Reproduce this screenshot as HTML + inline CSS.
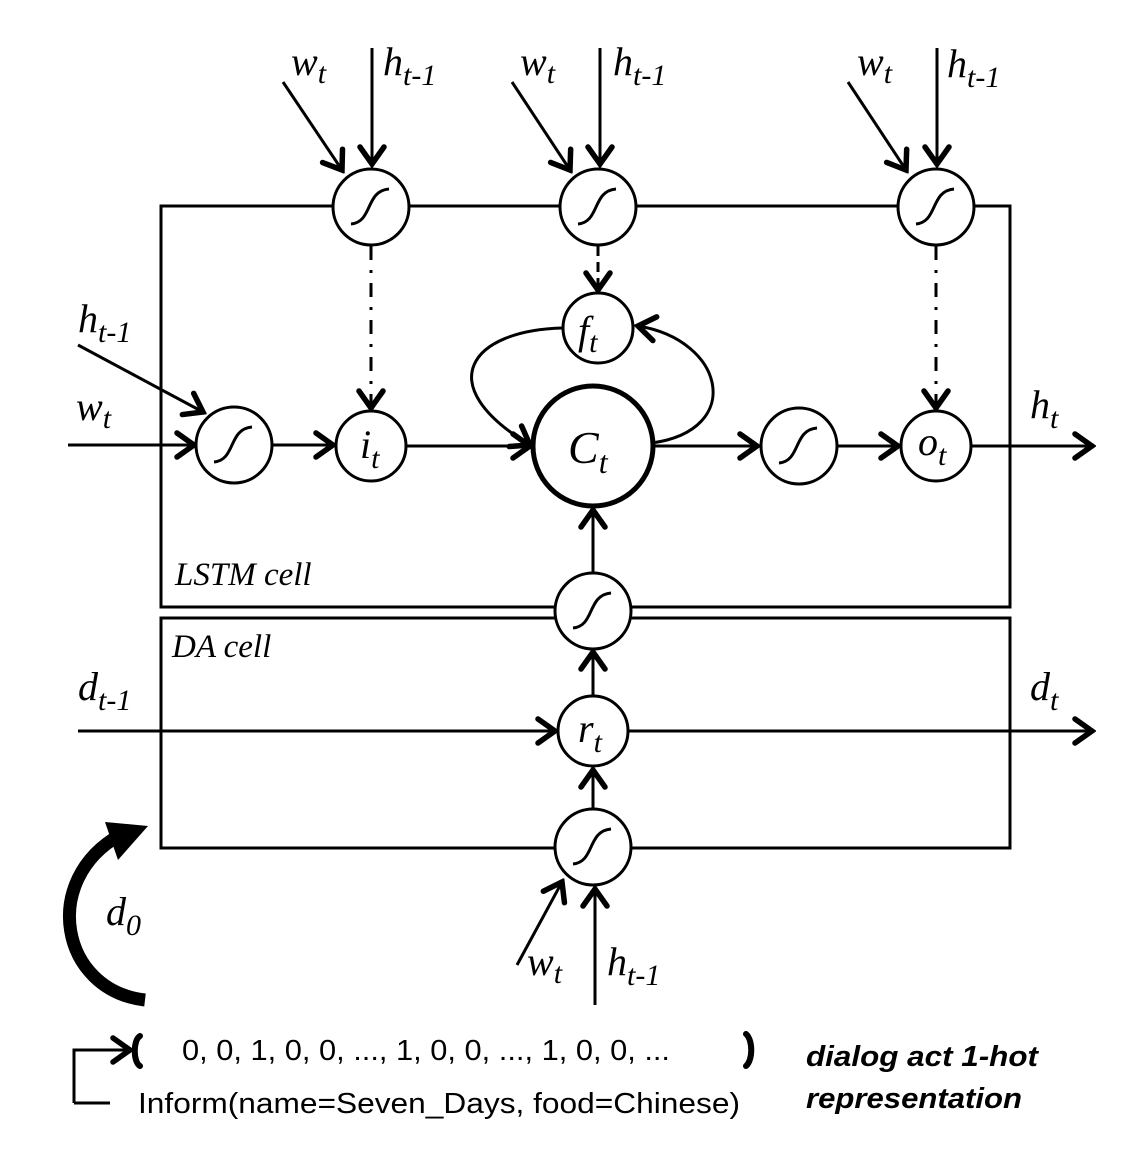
<!DOCTYPE html>
<html><head><meta charset="utf-8"><style>
html,body{margin:0;padding:0;background:#fff;}
svg{display:block;}
.l{font-family:"Liberation Serif",serif;font-style:italic;fill:#000;}
.s{font-family:"Liberation Sans",sans-serif;fill:#000;}
</style></head><body>
<svg width="1142" height="1165" viewBox="0 0 1142 1165" xmlns="http://www.w3.org/2000/svg">
<defs>
<marker id="a" viewBox="-22 -16 26 32" refX="0" refY="0" markerWidth="26" markerHeight="32" markerUnits="userSpaceOnUse" orient="auto">
<path d="M-17,-12 L0,0 L-17,12" fill="none" stroke="#000" stroke-width="5.5" stroke-linecap="round" stroke-linejoin="miter"/>
</marker>
<g id="sg"><path d="M-20,17 C2,15 -6,-16 18,-18" fill="none" stroke="#000" stroke-width="3"/></g>
</defs>
<g fill="none" stroke="#000" stroke-width="3">
<rect x="161" y="206" width="849" height="401"/>
<rect x="161" y="618" width="849" height="230"/>
<line x1="283" y1="82" x2="342" y2="170" marker-end="url(#a)"/>
<line x1="372" y1="48" x2="372" y2="164" marker-end="url(#a)"/>
<line x1="512" y1="82" x2="570" y2="170" marker-end="url(#a)"/>
<line x1="600" y1="48" x2="600" y2="164" marker-end="url(#a)"/>
<line x1="848" y1="82" x2="906" y2="170" marker-end="url(#a)"/>
<line x1="937" y1="48" x2="937" y2="164" marker-end="url(#a)"/>
<line x1="371" y1="246" x2="371" y2="408" stroke-dasharray="14,10,3,10" marker-end="url(#a)"/>
<line x1="598" y1="246" x2="598" y2="290" stroke-dasharray="10,6" marker-end="url(#a)"/>
<line x1="936" y1="246" x2="936" y2="408" stroke-dasharray="14,10,3,10" marker-end="url(#a)"/>
<line x1="78" y1="345" x2="203" y2="412" marker-end="url(#a)"/>
<line x1="68" y1="445" x2="194" y2="445" marker-end="url(#a)"/>
<line x1="272" y1="445" x2="333" y2="445" marker-end="url(#a)"/>
<line x1="406" y1="446" x2="530" y2="446" marker-end="url(#a)"/>
<line x1="653" y1="446" x2="757" y2="446" marker-end="url(#a)"/>
<line x1="837" y1="446" x2="898" y2="446" marker-end="url(#a)"/>
<line x1="971" y1="446" x2="1092" y2="446" marker-end="url(#a)"/>
<path d="M563,328 C470,330 430,385 530,445" marker-end="url(#a)"/>
<path d="M652,443 C745,430 725,340 638,326" marker-end="url(#a)"/>
<line x1="593" y1="573" x2="593" y2="510" marker-end="url(#a)"/>
<line x1="593" y1="696" x2="593" y2="652" marker-end="url(#a)"/>
<line x1="593" y1="809" x2="593" y2="770" marker-end="url(#a)"/>
<line x1="78" y1="731" x2="555" y2="731" marker-end="url(#a)"/>
<line x1="628" y1="731" x2="1092" y2="731" marker-end="url(#a)"/>
<line x1="517" y1="965" x2="562" y2="882" marker-end="url(#a)"/>
<line x1="595" y1="1005" x2="595" y2="889" marker-end="url(#a)"/>
<polyline points="74,1103 110,1103"/>
<polyline points="74,1103 74,1050 130,1050" marker-end="url(#a)"/>
</g>
<g fill="#fff" stroke="#000" stroke-width="3">
<circle cx="371" cy="207" r="38"/><circle cx="598" cy="207" r="38"/><circle cx="936" cy="207" r="38"/>
<circle cx="598" cy="328" r="35"/>
<circle cx="234" cy="445" r="38"/><circle cx="371" cy="446" r="35"/>
<circle cx="593" cy="446" r="60" stroke-width="5"/>
<circle cx="799" cy="446" r="38"/><circle cx="936" cy="446" r="35"/>
<circle cx="593" cy="611" r="38"/><circle cx="593" cy="731" r="35"/><circle cx="593" cy="847" r="38"/>
</g>
<use href="#sg" x="371" y="207"/><use href="#sg" x="598" y="207"/><use href="#sg" x="936" y="207"/>
<use href="#sg" x="234" y="445"/><use href="#sg" x="799" y="446"/>
<use href="#sg" x="593" y="611"/><use href="#sg" x="593" y="847"/>
<path d="M145,1000 C60,990 40,880 120,835" fill="none" stroke="#000" stroke-width="13"/>
<polygon points="105,822 148,826 118,860" fill="#000"/>
<!-- brackets -->
<path d="M140,1036 C133,1040 133,1062 140,1066" fill="none" stroke="#000" stroke-width="6" stroke-linecap="round"/>
<path d="M746,1034 C753,1040 753,1060 746,1066" fill="none" stroke="#000" stroke-width="6" stroke-linecap="round"/>
<g class="l" font-size="40">
<text x="291" y="75">w<tspan font-size="30" dy="8">t</tspan></text>
<text x="383" y="75">h<tspan font-size="30" dy="10">t-1</tspan></text>
<text x="520" y="75">w<tspan font-size="30" dy="8">t</tspan></text>
<text x="613" y="75">h<tspan font-size="30" dy="10">t-1</tspan></text>
<text x="857" y="75">w<tspan font-size="30" dy="8">t</tspan></text>
<text x="947" y="77">h<tspan font-size="30" dy="10">t-1</tspan></text>
<text x="78" y="332">h<tspan font-size="30" dy="10">t-1</tspan></text>
<text x="76" y="420">w<tspan font-size="30" dy="8">t</tspan></text>
<text x="578" y="344">f<tspan font-size="30" dy="8">t</tspan></text>
<text x="360" y="458">i<tspan font-size="30" dy="10">t</tspan></text>
<text x="568" y="463" font-size="46">C<tspan font-size="32" dy="10">t</tspan></text>
<text x="918" y="455">o<tspan font-size="30" dy="10">t</tspan></text>
<text x="1030" y="418">h<tspan font-size="30" dy="10">t</tspan></text>
<text x="578" y="742">r<tspan font-size="30" dy="10">t</tspan></text>
<text x="78" y="700">d<tspan font-size="30" dy="10">t-1</tspan></text>
<text x="1030" y="700">d<tspan font-size="30" dy="10">t</tspan></text>
<text x="106" y="925">d<tspan font-size="30" dy="10">0</tspan></text>
<text x="527" y="975">w<tspan font-size="30" dy="8">t</tspan></text>
<text x="607" y="975">h<tspan font-size="30" dy="10">t-1</tspan></text>
<text x="175" y="585" font-size="33">LSTM cell</text>
<text x="172" y="657" font-size="33">DA cell</text>
</g>
<g class="s" font-size="29">
<text x="182" y="1060" textLength="488" lengthAdjust="spacingAndGlyphs">0, 0, 1, 0, 0, ..., 1, 0, 0, ..., 1, 0, 0, ...</text>
<text x="138" y="1113" textLength="602" lengthAdjust="spacingAndGlyphs">Inform(name=Seven_Days, food=Chinese)</text>
<text x="806" y="1066" font-weight="bold" font-style="italic" textLength="232" lengthAdjust="spacingAndGlyphs">dialog act 1-hot</text>
<text x="806" y="1108" font-weight="bold" font-style="italic" textLength="216" lengthAdjust="spacingAndGlyphs">representation</text>
</g>
</svg>
</body></html>
